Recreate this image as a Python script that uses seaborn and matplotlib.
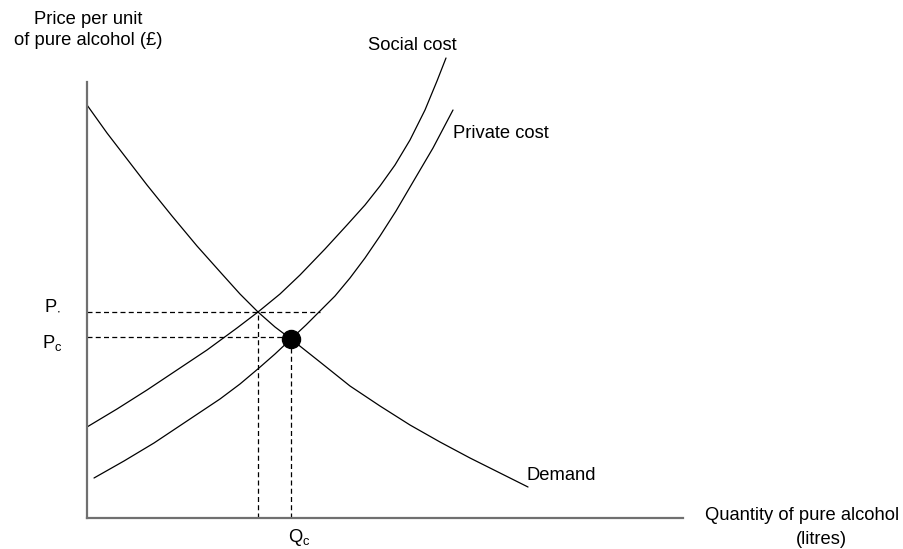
"""Alcohol market diagram: social cost vs private cost with demand."""

import matplotlib
matplotlib.use("Agg")
import matplotlib.pyplot as plt
import pandas as pd
import seaborn as sns

# curves (quantity, price)
demand_q = [0, 20, 40, 60, 85, 110, 135, 153, 171, 188, 204, 233, 263, 293,
            323, 353, 383, 413, 441]
demand_p = [413, 385, 359, 333, 302, 272, 244, 224, 206, 191, 179, 156, 132,
            112, 93, 76, 60, 45, 31]

social_q = [0, 30, 60, 90, 120, 150, 171, 193, 213, 238, 260, 278, 293, 308,
            323, 338, 350, 359]
social_p = [91, 109, 128, 148, 168, 190, 206, 224, 243, 269, 293, 313, 332,
            353, 378, 408, 437, 460]

private_q = [7, 37, 67, 100, 133, 153, 172, 188, 204, 219, 234, 248, 263, 278,
             293, 309, 326, 346, 366]
private_p = [40, 57, 75, 97, 119, 134, 150, 164, 179, 193, 208, 222, 240, 260,
             282, 307, 336, 370, 408]

# marked prices / quantities
p_social = 206
q_social = 171
p_comp = 179
q_comp = 204
p_social_end = 233  # where the P* guide meets private cost

frames = []
for name, q, p in [("Demand", demand_q, demand_p),
                   ("Social cost", social_q, social_p),
                   ("Private cost", private_q, private_p)]:
    frames.append(pd.DataFrame({"q": q, "p": p, "curve": name}))
df = pd.concat(frames, ignore_index=True)

sns.set_theme(style="white")
plt.rcParams["font.family"] = ["Liberation Sans", "DejaVu Sans"]

fig = plt.figure(figsize=(9.04, 5.49), dpi=100)
ax = fig.add_axes([87 / 904, 31 / 549, 596 / 904, 436 / 549])

for name in ["Demand", "Social cost", "Private cost"]:
    sub = df[df["curve"] == name]
    sns.lineplot(data=sub, x="q", y="p", sort=False, estimator=None,
                 color="black", lw=0.9, ax=ax, clip_on=False)

dash = (0, (4, 2.6))
ax.plot([0, p_social_end], [p_social, p_social], color="black", lw=0.9, ls=dash)
ax.plot([0, q_comp], [p_comp + 2, p_comp + 2], color="black", lw=0.9, ls=dash)
ax.plot([q_social, q_social], [0, p_social], color="black", lw=0.9, ls=dash)
ax.plot([q_comp, q_comp], [0, p_comp], color="black", lw=0.9, ls=dash)
ax.plot([q_comp], [p_comp], "o", color="black", ms=13, zorder=5)

ax.set_xlim(0, 596)
ax.set_ylim(0, 436)
ax.set_xticks([])
ax.set_yticks([])
ax.set_xlabel("")
ax.set_ylabel("")
for side in ["top", "right"]:
    ax.spines[side].set_visible(False)
for side in ["left", "bottom"]:
    ax.spines[side].set_color("#707070")
    ax.spines[side].set_linewidth(1.6)

fs = 13.2
kw = dict(fontsize=fs, color="black", clip_on=False, va="center")
ax.text(1, 488, "Price per unit\nof pure alcohol (£)", ha="center",
        linespacing=1.3, **kw)
ax.text(325, 473, "Social cost", ha="center", **kw)
ax.text(414, 385, "Private cost", ha="center", **kw)
ax.text(474, 42, "Demand", ha="center", **kw)
ax.text(715, 3, "Quantity of pure alcohol", ha="center", **kw)
ax.text(734, -22, "(litres)", ha="center", **kw)
ax.text(-43, 212, r"$\mathregular{P_{\cdot}}$", ha="left", **kw)
ax.text(-45, 175, r"$\mathregular{P_c}$", ha="left", **kw)
ax.text(201, -20, r"$\mathregular{Q_c}$", ha="left", **kw)

fig.savefig("out.png", dpi=100)
